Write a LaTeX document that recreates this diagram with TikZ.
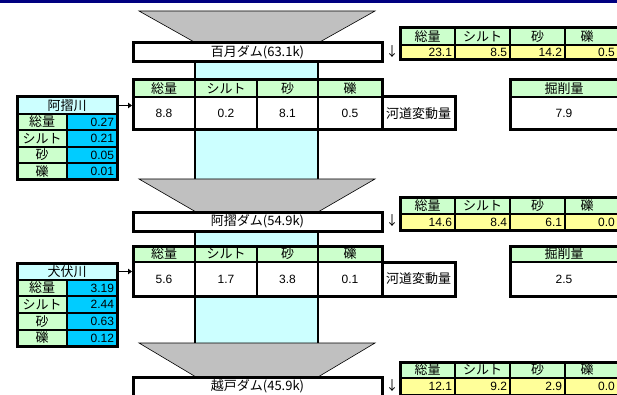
\documentclass[tikz,border=0pt]{standalone}
\usepackage{fontspec}
\setmainfont{Liberation Sans}
\newfontfamily\jp{Noto Sans CJK JP}
\usetikzlibrary{arrows.meta}

\definecolor{navy}{HTML}{000080}
\definecolor{hdr}{HTML}{CCFFCC}
\definecolor{pale}{HTML}{CCFFFF}
\definecolor{aqua}{HTML}{00CCFF}
\definecolor{lemon}{HTML}{FFFF99}
\definecolor{silver}{HTML}{C0C0C0}

% centred cell: name, x1, y1, x2, y2, style, text
\newcommand\gcell[7]{\node[cellbox,#6,minimum width={(#4)-(#2)},minimum height={(#5)-(#3)}] (#1) at ({((#2)+(#4))/2},{((#3)+(#5))/2}) {#7};}
% right-aligned cell
\newcommand\rcell[7]{\node[cellbox,#6,minimum width={(#4)-(#2)},minimum height={(#5)-(#3)},text width={(#4)-(#2)-6},align=right] (#1) at ({((#2)+(#4))/2},{((#3)+(#5))/2}) {#7};}

\tikzset{
  cellbox/.style={draw=black, line width=1.8pt, inner sep=0pt, outer sep=0pt,
    font=\fontsize{12}{12}\selectfont},
  hd/.style={fill=hdr, font=\jp\fontsize{13}{13}\selectfont},
  wt/.style={fill=white},
  jpw/.style={fill=white, font=\jp\fontsize{13}{13}\selectfont},
  tribt/.style={fill=pale, font=\jp\fontsize{13}{13}\selectfont},
  aq/.style={fill=aqua},
  lm/.style={fill=lemon},
  dambox/.style={fill=white, line width=3pt, font=\jp\fontsize{13}{13}\selectfont},
  frame/.style={draw=black, line width=3pt},
  trap/.style={fill=silver, draw=black, line width=0.6pt},
  colm/.style={fill=pale, draw=none},
  colside/.style={draw=black, line width=2.6pt},
  inflow/.style={-{Triangle[length=4pt,width=5.5pt]}, line width=1.4pt,
    shorten <=2pt, shorten >=1pt},
  downmark/.style={inner sep=0pt, font=\jp\fontsize{13}{13}\selectfont},
  jtxt/.style={inner sep=0pt, font=\jp\fontsize{13}{13}\selectfont},
  ntxt/.style={inner sep=0pt, font=\fontsize{12}{12}\selectfont},
}

\begin{document}
\begin{tikzpicture}[x=1pt,y=-1pt]
\useasboundingbox (0,0) rectangle (617,395);

% title bar
\fill[navy] (0,0) rectangle (617,2.6);

% river channel columns between dams
\foreach \ya/\yb in {62/180, 231/343}{
  \fill[colm] (195,\ya) rectangle (318,\yb);
  \draw[colside] (195,\ya) -- (195,\yb);
  \draw[colside] (318,\ya) -- (318,\yb);
}

% reservoirs
\draw[trap] (139,11) -- (375,11) -- (318,43) -- (196,43) -- cycle;
\draw[trap] (139,179) -- (375,179) -- (318,212) -- (196,212) -- cycle;
\draw[trap] (139,343) -- (375,343) -- (318,377) -- (196,377) -- cycle;

% dams
\gcell{dam1}{133}{43}{382}{62}{dambox}{百月ダム(63.1k)}
\gcell{dam2}{133}{212}{382}{231}{dambox}{阿摺ダム(54.9k)}
\gcell{dam3}{133}{377}{382}{396}{dambox}{越戸ダム(45.9k)}

% ---------- reach 1 ----------
\gcell{h1a}{133}{80}{195}{97}{hd}{総量}
\gcell{h1b}{195}{80}{257}{97}{hd}{シルト}
\gcell{h1c}{257}{80}{318}{97}{hd}{砂}
\gcell{h1d}{318}{80}{382}{97}{hd}{礫}
\gcell{v1a}{133}{97}{195}{130}{wt}{8.8}
\gcell{v1b}{195}{97}{257}{130}{wt}{0.2}
\gcell{v1c}{257}{97}{318}{130}{wt}{8.1}
\gcell{v1d}{318}{97}{382}{130}{wt}{0.5}
\draw[frame] (h1a.north west) rectangle (v1d.south east);
\gcell{k1}{382}{97}{455}{130}{jpw,line width=3pt}{河道変動量}
% excavation box runs past the right edge
\gcell{e1h}{510}{80}{630}{97}{hd}{}
\gcell{e1v}{510}{97}{630}{130}{wt}{}
\draw[frame] (e1h.north west) rectangle (e1v.south east);
\node[jtxt] (e1ht) at (564,88.5) {掘削量};
\node[ntxt] (e1vt) at (564,113.5) {7.9};

% outflow below dam 1
\gcell{o1a}{400}{28}{455}{45}{hd}{総量}
\gcell{o1b}{455}{28}{510}{45}{hd}{シルト}
\gcell{o1c}{510}{28}{565}{45}{hd}{砂}
\gcell{o1d}{565}{28}{630}{45}{hd}{}
\rcell{p1a}{400}{45}{455}{60}{lm}{23.1}
\rcell{p1b}{455}{45}{510}{60}{lm}{8.5}
\rcell{p1c}{510}{45}{565}{60}{lm}{14.2}
\gcell{p1d}{565}{45}{630}{60}{lm}{}
\draw[frame] (o1a.north west) rectangle (p1d.south east);
\node[jtxt] (o1dt) at (587,36.5) {礫};
\node[ntxt,anchor=east] (p1dt) at (615,52.5) {0.5};
\node[downmark] (d1) at (392,52) {↓};

% tributary 1
\gcell{t1}{17}{97}{117}{114}{tribt}{阿摺川}
\gcell{l1a}{17}{114}{67}{130}{hd}{総量}
\gcell{l1b}{17}{130}{67}{147}{hd}{シルト}
\gcell{l1c}{17}{147}{67}{163}{hd}{砂}
\gcell{l1d}{17}{163}{67}{180}{hd}{礫}
\rcell{r1a}{67}{114}{117}{130}{aq}{0.27}
\rcell{r1b}{67}{130}{117}{147}{aq}{0.21}
\rcell{r1c}{67}{147}{117}{163}{aq}{0.05}
\rcell{r1d}{67}{163}{117}{180}{aq}{0.01}
\draw[frame] (t1.north west) rectangle (r1d.south east);
\draw[inflow] (t1.east) -- (t1.east -| v1a.west);

% ---------- reach 2 ----------
\gcell{h2a}{133}{246}{195}{262}{hd}{総量}
\gcell{h2b}{195}{246}{257}{262}{hd}{シルト}
\gcell{h2c}{257}{246}{318}{262}{hd}{砂}
\gcell{h2d}{318}{246}{382}{262}{hd}{礫}
\gcell{v2a}{133}{262}{195}{296}{wt}{5.6}
\gcell{v2b}{195}{262}{257}{296}{wt}{1.7}
\gcell{v2c}{257}{262}{318}{296}{wt}{3.8}
\gcell{v2d}{318}{262}{382}{296}{wt}{0.1}
\draw[frame] (h2a.north west) rectangle (v2d.south east);
\gcell{k2}{382}{262}{455}{296}{jpw,line width=3pt}{河道変動量}
\gcell{e2h}{510}{246}{630}{262}{hd}{}
\gcell{e2v}{510}{262}{630}{296}{wt}{}
\draw[frame] (e2h.north west) rectangle (e2v.south east);
\node[jtxt] (e2ht) at (564,254) {掘削量};
\node[ntxt] (e2vt) at (564,279) {2.5};

% outflow below dam 2
\gcell{o2a}{400}{197}{455}{214}{hd}{総量}
\gcell{o2b}{455}{197}{510}{214}{hd}{シルト}
\gcell{o2c}{510}{197}{565}{214}{hd}{砂}
\gcell{o2d}{565}{197}{630}{214}{hd}{}
\rcell{p2a}{400}{214}{455}{230}{lm}{14.6}
\rcell{p2b}{455}{214}{510}{230}{lm}{8.4}
\rcell{p2c}{510}{214}{565}{230}{lm}{6.1}
\gcell{p2d}{565}{214}{630}{230}{lm}{}
\draw[frame] (o2a.north west) rectangle (p2d.south east);
\node[jtxt] (o2dt) at (587,205.5) {礫};
\node[ntxt,anchor=east] (p2dt) at (615,222) {0.0};
\node[downmark] (d2) at (392,221) {↓};

% tributary 2
\gcell{t2}{17}{263}{117}{280}{tribt}{犬伏川}
\gcell{l2a}{17}{280}{67}{296}{hd}{総量}
\gcell{l2b}{17}{296}{67}{313}{hd}{シルト}
\gcell{l2c}{17}{313}{67}{330}{hd}{砂}
\gcell{l2d}{17}{330}{67}{346}{hd}{礫}
\rcell{r2a}{67}{280}{117}{296}{aq}{3.19}
\rcell{r2b}{67}{296}{117}{313}{aq}{2.44}
\rcell{r2c}{67}{313}{117}{330}{aq}{0.63}
\rcell{r2d}{67}{330}{117}{346}{aq}{0.12}
\draw[frame] (t2.north west) rectangle (r2d.south east);
\draw[inflow] (t2.east) -- (t2.east -| v2a.west);

% outflow below dam 3
\gcell{o3a}{400}{362}{455}{378}{hd}{総量}
\gcell{o3b}{455}{362}{510}{378}{hd}{シルト}
\gcell{o3c}{510}{362}{565}{378}{hd}{砂}
\gcell{o3d}{565}{362}{630}{378}{hd}{}
\rcell{p3a}{400}{378}{455}{395}{lm}{12.1}
\rcell{p3b}{455}{378}{510}{395}{lm}{9.2}
\rcell{p3c}{510}{378}{565}{395}{lm}{2.9}
\gcell{p3d}{565}{378}{630}{395}{lm}{}
\draw[frame] (o3a.north west) rectangle (p3d.south east);
\node[jtxt] (o3dt) at (587,370) {礫};
\node[ntxt,anchor=east] (p3dt) at (615,386.5) {0.0};
\node[downmark] (d3) at (392,386) {↓};
\end{tikzpicture}
\end{document}
